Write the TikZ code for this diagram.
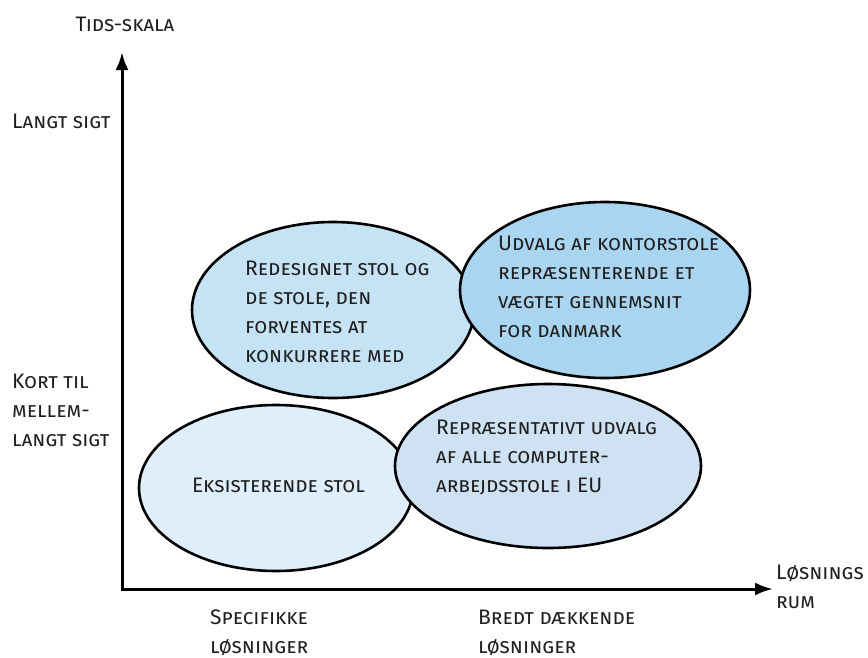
\documentclass[tikz,border=0pt]{standalone}
\usepackage{fontspec}
\setmainfont{Fira Sans}
\usetikzlibrary{arrows.meta,shapes.geometric}
\definecolor{optA}{HTML}{C6E2F5}
\definecolor{optB}{HTML}{AAD5F0}
\definecolor{optC}{HTML}{DEEEFA}
\definecolor{optD}{HTML}{CFE2F4}
\begin{document}
\begin{tikzpicture}[x=1pt,y=-1pt,
  ell/.style={ellipse, draw, line width=2.6pt, inner sep=0pt},
  lbl/.style={anchor=base west, align=left, inner sep=0pt, text=black!88,
    font=\fontsize{21}{29}\selectfont\scshape},
  axis/.style={line width=3pt, miter limit=10, {Latex[length=18pt,width=13pt]}-{Latex[length=18pt,width=13pt]}}]
\useasboundingbox (0,0) rectangle (868,657);
\coordinate (ytop) at (122,52);
\coordinate (orig) at (122,589);
\coordinate (xend) at (773,589);
\draw[axis] (ytop) -- (orig) -- (xend);

\node[ell, fill=optA, minimum width=282pt, minimum height=176pt] (opt1) at (333,310){};
\node[ell, fill=optB, minimum width=290pt, minimum height=176pt] (opt2) at (605,290){};
\node[ell, fill=optC, minimum width=274pt, minimum height=166pt] (opt3) at (276,488){};
\node[ell, fill=optD, minimum width=306pt, minimum height=164pt] (opt4) at (548,466){};

% multi-line labels sit on their last baseline
\node[lbl] (txt1) at (245,362){Redesignet stol og\\de stole, den\\forventes at\\konkurrere med};
\node[lbl] (txt2) at (498,337){Udvalg af kontorstole\\repræsenterende et\\vægtet gennemsnit\\for danmark};
\node[lbl] (txt3) at (192,492){Eksisterende stol};
\node[lbl] (txt4) at (436,492){Repræsentativt udvalg\\af alle computer-\\arbejdsstole i EU};

\node[lbl, anchor=base] (ylab) at (125,31){Tids-skala};
\node[lbl] (ylong) at (12,128){Langt sigt};
\node[lbl] (yshort) at (12,446){Kort til\\mellem-\\langt sigt};
\node[lbl] (xspec) at (210,653){Specifikke\\løsninger};
\node[lbl] (xbroad) at (478,653){Bredt dækkende\\løsninger};
\node[lbl] (xlab) at (776,608){Løsnings\\rum};

\end{tikzpicture}
\end{document}
